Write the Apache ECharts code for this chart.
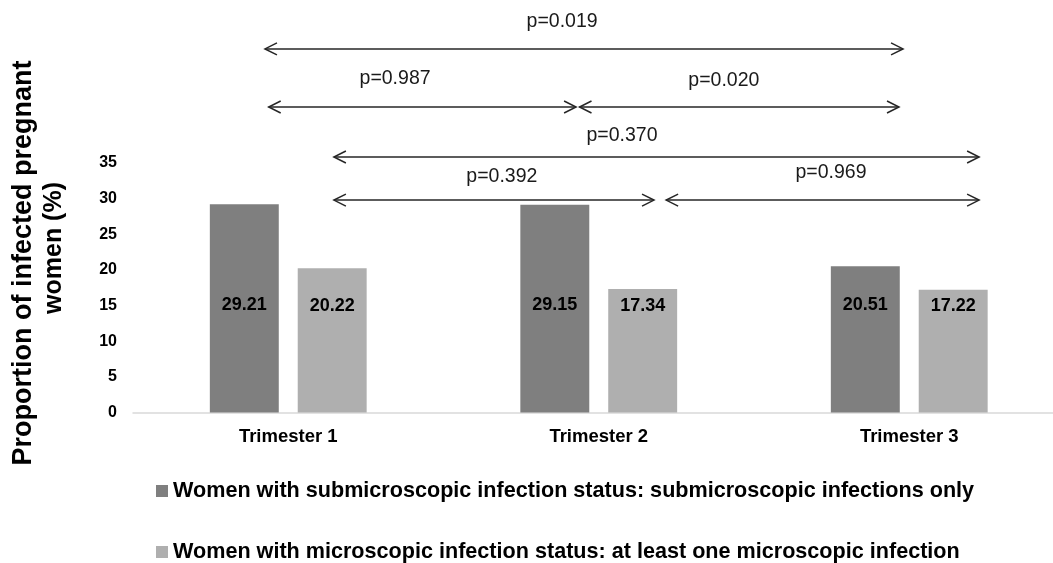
<!DOCTYPE html>
<html>
<head>
<meta charset="utf-8">
<script src="https://cdn.jsdelivr.net/npm/echarts@6/dist/echarts.min.js"></script>
<style>
html,body{margin:0;padding:0;background:#fff;overflow:hidden;width:1053px;height:563px;}
#chart{width:1075px;height:563px;}
</style>
</head>
<body>
<div id="chart"></div>
<script>
const categories = ['Trimester 1', 'Trimester 2', 'Trimester 3'];
const subName = 'Women with submicroscopic infection status: submicroscopic infections only';
const micName = 'Women with microscopic infection status: at least one microscopic infection';
const subValues = [29.21, 29.15, 20.51];
const micValues = [20.22, 17.34, 17.22];
const yTickMax = 35;
const yTitleLines = ['Proportion of infected pregnant', 'women (%)'];
// p-value comparison annotations (x in category units 0..3, y in % units)
const pLabels = ['p=0.019', 'p=0.987', 'p=0.020', 'p=0.370', 'p=0.392', 'p=0.969'];
const arrowStart = [0.425, 0.437, 1.438, 0.647, 0.647, 1.717];
const arrowEnd = [2.480, 1.427, 2.467, 2.725, 1.678, 2.725];
const arrowLevel = [51.0, 42.85, 42.85, 35.84, 29.8, 29.8];
const labelX = [1.382, 0.844, 1.903, 1.575, 1.188, 2.248];
const labelY = [54.8, 46.8, 46.6, 38.8, 33.1, 33.6];

const arrowData = pLabels.map((t, i) => [arrowStart[i], arrowEnd[i], arrowLevel[i], labelX[i], labelY[i], t]);

const chart = echarts.init(document.getElementById('chart'), null, {renderer: 'canvas'});
const FONT = '"Liberation Sans", Arial, sans-serif';

chart.setOption({
  animation: false,
  textStyle: {fontFamily: FONT},
  grid: {left: 133, width: 931.5, top: 13.3, bottom: 150.5, containLabel: false},
  legend: {
    orient: 'vertical', left: 156, top: 480, padding: 0,
    itemWidth: 12, itemHeight: 12, itemGap: 39,
    icon: 'rect',
    data: [subName, micName],
    textStyle: {fontFamily: FONT, fontWeight: 'bold', fontSize: 21.6, lineHeight: 22, color: '#000'}
  },
  xAxis: [
    {
      type: 'category', data: categories,
      axisLine: {lineStyle: {color: '#d9d9d9', width: 1.5}},
      axisTick: {show: false},
      axisLabel: {fontFamily: FONT, fontWeight: 'bold', fontSize: 18.5, color: '#000', margin: 15}
    },
    {type: 'value', min: 0, max: 3, show: false}
  ],
  yAxis: {
    type: 'value', min: 0, max: 56, interval: 5,
    axisLine: {show: false}, axisTick: {show: false}, splitLine: {show: false},
    axisLabel: {
      fontFamily: FONT, fontWeight: 'bold', fontSize: 16, color: '#000', margin: 16,
      formatter: v => (v <= yTickMax ? String(v) : '')
    }
  },
  graphic: [
    {
      type: 'text', x: 24, y: 263, rotation: Math.PI / 2,
      style: {text: yTitleLines[0], font: 'bold 27px ' + FONT, fill: '#000', align: 'center', verticalAlign: 'middle'}
    },
    {
      type: 'text', x: 54, y: 248, rotation: Math.PI / 2,
      style: {text: yTitleLines[1], font: 'bold 25px ' + FONT, fill: '#000', align: 'center', verticalAlign: 'middle'}
    }
  ],
  series: [
    {
      name: subName, type: 'bar', data: subValues,
      barWidth: '22.2%', barGap: '27.5%',
      itemStyle: {color: '#7f7f7f'},
      label: {show: true, position: 'insideBottom', distance: 98, fontFamily: FONT, fontWeight: 'bold', fontSize: 18, color: '#000', formatter: p => p.value.toFixed(2)}
    },
    {
      name: micName, type: 'bar', data: micValues,
      barWidth: '22.2%',
      itemStyle: {color: '#afafaf'},
      label: {show: true, position: 'insideBottom', distance: 97, fontFamily: FONT, fontWeight: 'bold', fontSize: 18, color: '#000', formatter: p => p.value.toFixed(2)}
    },
    {
      type: 'custom', xAxisIndex: 1, yAxisIndex: 0,
      data: arrowData, clip: false, silent: true,
      renderItem: function (params, api) {
        const a = api.coord([api.value(0), api.value(2)]);
        const b = api.coord([api.value(1), api.value(2)]);
        const t = api.coord([api.value(3), api.value(4)]);
        const hl = 12, hh = 6;
        const stroke = {stroke: '#262626', lineWidth: 1.5, fill: null};
        return {
          type: 'group',
          children: [
            {type: 'line', shape: {x1: a[0], y1: a[1], x2: b[0], y2: b[1]}, style: stroke},
            {type: 'polyline', shape: {points: [[a[0] + hl, a[1] - hh], [a[0], a[1]], [a[0] + hl, a[1] + hh]]}, style: stroke},
            {type: 'polyline', shape: {points: [[b[0] - hl, b[1] - hh], [b[0], b[1]], [b[0] - hl, b[1] + hh]]}, style: stroke},
            {type: 'text', x: t[0], y: t[1], style: {text: arrowData[params.dataIndex][5], font: '19.5px ' + FONT, fill: '#1a1a1a', align: 'center', verticalAlign: 'middle'}}
          ]
        };
      }
    }
  ]
});
</script>
</body>
</html>
